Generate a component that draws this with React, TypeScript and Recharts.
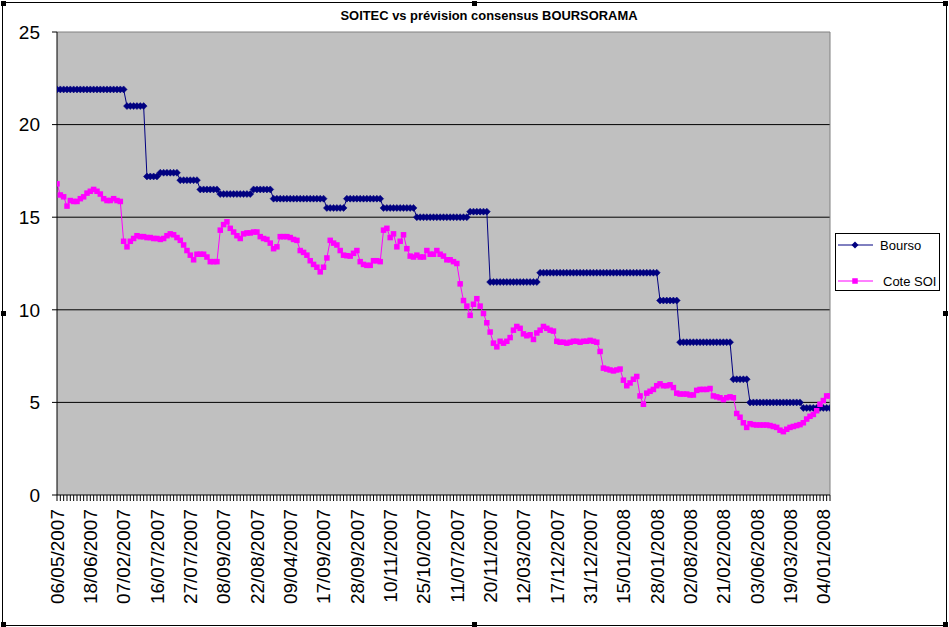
import { LineChart, Line, XAxis, YAxis, CartesianGrid, ReferenceLine, Legend } from 'recharts';

// visible category labels, one every 10 trading days
const tickLabels = [
  '06/05/2007', '18/06/2007', '07/02/2007', '16/07/2007', '27/07/2007', '08/09/2007',
  '22/08/2007', '09/04/2007', '17/09/2007', '28/09/2007', '10/11/2007', '25/10/2007',
  '11/07/2007', '20/11/2007', '12/03/2007', '17/12/2007', '31/12/2007', '15/01/2008',
  '28/01/2008', '02/08/2008', '21/02/2008', '03/06/2008', '19/03/2008', '04/01/2008',
];

const bourso = [
  21.9, 21.9, 21.9, 21.9, 21.9, 21.9, 21.9, 21.9, 21.9, 21.9,
  21.9, 21.9, 21.9, 21.9, 21.9, 21.9, 21.9, 21.9, 21.9, 21.9,
  21.9, 21.0, 21.0, 21.0, 21.0, 21.0, 21.0, 17.2, 17.2, 17.2,
  17.2, 17.4, 17.4, 17.4, 17.4, 17.4, 17.4, 17.0, 17.0, 17.0,
  17.0, 17.0, 17.0, 16.5, 16.5, 16.5, 16.5, 16.5, 16.5, 16.25,
  16.25, 16.25, 16.25, 16.25, 16.25, 16.25, 16.25, 16.25, 16.25, 16.5,
  16.5, 16.5, 16.5, 16.5, 16.5, 16.0, 16.0, 16.0, 16.0, 16.0,
  16.0, 16.0, 16.0, 16.0, 16.0, 16.0, 16.0, 16.0, 16.0, 16.0,
  16.0, 15.5, 15.5, 15.5, 15.5, 15.5, 15.5, 16.0, 16.0, 16.0,
  16.0, 16.0, 16.0, 16.0, 16.0, 16.0, 16.0, 16.0, 15.5, 15.5,
  15.5, 15.5, 15.5, 15.5, 15.5, 15.5, 15.5, 15.5, 15.0, 15.0,
  15.0, 15.0, 15.0, 15.0, 15.0, 15.0, 15.0, 15.0, 15.0, 15.0,
  15.0, 15.0, 15.0, 15.0, 15.3, 15.3, 15.3, 15.3, 15.3, 15.3,
  11.5, 11.5, 11.5, 11.5, 11.5, 11.5, 11.5, 11.5, 11.5, 11.5,
  11.5, 11.5, 11.5, 11.5, 11.5, 12.0, 12.0, 12.0, 12.0, 12.0,
  12.0, 12.0, 12.0, 12.0, 12.0, 12.0, 12.0, 12.0, 12.0, 12.0,
  12.0, 12.0, 12.0, 12.0, 12.0, 12.0, 12.0, 12.0, 12.0, 12.0,
  12.0, 12.0, 12.0, 12.0, 12.0, 12.0, 12.0, 12.0, 12.0, 12.0,
  12.0, 10.5, 10.5, 10.5, 10.5, 10.5, 10.5, 8.25, 8.25, 8.25,
  8.25, 8.25, 8.25, 8.25, 8.25, 8.25, 8.25, 8.25, 8.25, 8.25,
  8.25, 8.25, 8.25, 6.25, 6.25, 6.25, 6.25, 6.25, 5.0, 5.0,
  5.0, 5.0, 5.0, 5.0, 5.0, 5.0, 5.0, 5.0, 5.0, 5.0,
  5.0, 5.0, 5.0, 5.0, 4.7, 4.7, 4.7, 4.7, 4.7, 4.7,
  4.7, 4.7, 4.7,
];

const coteSoi = [
  16.8, 16.2, 16.1, 15.6, 15.9, 15.85, 15.85, 16.0, 16.1, 16.3,
  16.4, 16.5, 16.4, 16.25, 16.0, 15.9, 15.9, 16.0, 15.9, 15.85,
  13.7, 13.4, 13.7, 13.85, 14.0, 13.95, 13.95, 13.9, 13.9, 13.85,
  13.85, 13.8, 13.85, 14.0, 14.1, 14.05, 13.9, 13.75, 13.5, 13.2,
  12.95, 12.7, 13.0, 13.0, 13.0, 12.85, 12.6, 12.6, 12.6, 14.3,
  14.6, 14.75, 14.4, 14.2, 14.0, 13.85, 14.1, 14.15, 14.15, 14.2,
  14.2, 13.95, 13.85, 13.8, 13.6, 13.3, 13.4, 13.95, 13.95, 13.95,
  13.9, 13.8, 13.75, 13.2, 13.1, 12.95, 12.65, 12.45, 12.3, 12.05,
  12.3, 12.8, 13.75, 13.6, 13.5, 13.2, 12.95, 12.92, 12.9, 13.05,
  13.2, 12.6, 12.45, 12.4, 12.4, 12.65, 12.65, 12.6, 14.3, 14.4,
  13.9, 14.1, 13.4, 13.7, 14.05, 13.3, 12.9, 12.85, 12.95, 12.85,
  12.85, 13.2, 13.0, 13.0, 13.2, 13.0, 12.9, 12.7, 12.7, 12.6,
  12.5, 11.4, 10.5, 10.2, 9.7, 10.3, 10.6, 10.2, 9.8, 9.3,
  8.8, 8.2, 8.0, 8.3, 8.2, 8.3, 8.5, 8.9, 9.1, 9.0,
  8.7, 8.6, 8.65, 8.4, 8.75, 8.9, 9.1, 9.0, 8.9, 8.85,
  8.3, 8.25, 8.25, 8.2, 8.25, 8.3, 8.3, 8.25, 8.3, 8.3,
  8.35, 8.3, 8.25, 7.75, 6.85, 6.8, 6.75, 6.7, 6.75, 6.8,
  6.2, 5.9, 6.05, 6.25, 6.4, 5.35, 4.9, 5.5, 5.6, 5.7,
  5.9, 6.0, 5.9, 5.9, 5.95, 5.8, 5.5, 5.45, 5.45, 5.45,
  5.4, 5.4, 5.65, 5.7, 5.7, 5.7, 5.75, 5.35, 5.3, 5.25,
  5.15, 5.25, 5.3, 5.25, 4.4, 4.2, 3.9, 3.65, 3.85, 3.8,
  3.78, 3.78, 3.78, 3.78, 3.75, 3.7, 3.65, 3.5, 3.42, 3.55,
  3.65, 3.7, 3.75, 3.8, 3.9, 4.1, 4.25, 4.35, 4.55, 4.9,
  5.1, 5.35, 5.35,
];

const yTicks = [0, 5, 10, 15, 20, 25];

const data = bourso.map((b, i) => ({ i, bourso: b, coteSoi: coteSoi[i] }));
const lastIndex = data.length - 1;
const xTicks = data.map((d) => d.i);

const FONT = '"Liberation Sans", Arial, sans-serif';
const NAVY = '#000080';
const MAGENTA = '#FF00FF';

const XTick = (props: any) => {
  const { x, y, payload } = props;
  const v = payload.value;
  if (v % 10 !== 0) return null;
  const label = tickLabels[v / 10];
  if (!label) return null;
  return (
    <text
      x={x}
      y={y}
      transform={`rotate(-90 ${x} ${y})`}
      textAnchor="end"
      dy="0.36em"
      fontSize={19}
      fontFamily={FONT}
      fill="#000"
    >
      {label}
    </text>
  );
};

const Diamond = (props: any) => {
  const { cx, cy } = props;
  if (cx == null || cy == null) return null;
  return (
    <polygon
      points={`${cx - 3.5},${cy} ${cx},${cy - 3.5} ${cx + 3.5},${cy} ${cx},${cy + 3.5}`}
      fill={NAVY}
      stroke={NAVY}
      strokeWidth={0.5}
    />
  );
};

const Square = (props: any) => {
  const { cx, cy } = props;
  if (cx == null || cy == null) return null;
  return <rect x={cx - 2.75} y={cy - 2.75} width={5.5} height={5.5} fill={MAGENTA} />;
};

const LegendBox = () => (
  <svg width={105} height={58} style={{ display: 'block' }}>
    <rect x={0.5} y={0.5} width={104} height={57} fill="#fff" stroke="#000" />
    <line x1={3} y1={12} x2={38} y2={12} stroke={NAVY} />
    <polygon points="16.5,12 20,8.5 23.5,12 20,15.5" fill={NAVY} />
    <text x={45} y={12} dy="0.36em" fontSize={13} fontFamily={FONT} fill="#000">
      Bourso
    </text>
    <line x1={3} y1={48} x2={38} y2={48} stroke={MAGENTA} />
    <rect x={17.25} y={45.25} width={5.5} height={5.5} fill={MAGENTA} />
    <text x={48} y={48} dy="0.36em" fontSize={13} fontFamily={FONT} fill="#000">
      Cote SOI
    </text>
  </svg>
);

const handle = (left: number, top: number) => (
  <div
    key={`${left}-${top}`}
    style={{ position: 'absolute', left: left - 2, top: top - 2, width: 5, height: 5, background: '#000' }}
  />
);

export default function App() {
  return (
    <div style={{ position: 'absolute', left: 0, top: 0, width: 949, height: 627, background: '#fff' }}>
      <LineChart
        width={949}
        height={627}
        data={data}
        margin={{ top: 32, right: 119, bottom: 22, left: 0 }}
      >
        <CartesianGrid
          vertical={false}
          fill="#C0C0C0"
          stroke="#000"
          strokeOpacity={1}
          horizontalValues={[5, 10, 15, 20]}
        />
        <XAxis
          type="number"
          dataKey="i"
          domain={[0, lastIndex]}
          ticks={xTicks}
          interval={0}
          height={110}
          tickSize={6}
          tickMargin={8}
          tick={<XTick />}
          tickLine={{ stroke: '#000' }}
          axisLine={{ stroke: '#000' }}
          allowDataOverflow
        />
        <YAxis
          domain={[0, 25]}
          ticks={yTicks}
          interval={0}
          width={57}
          tickSize={5}
          tickMargin={12}
          tick={{ fill: '#000', fontSize: 19, fontFamily: FONT }}
          tickLine={{ stroke: '#000' }}
          axisLine={{ stroke: '#000' }}
        />
        <ReferenceLine y={25} stroke="#808080" />
        <ReferenceLine x={lastIndex} stroke="#808080" />
        <Line
          type="linear"
          dataKey="bourso"
          name="Bourso"
          stroke={NAVY}
          strokeWidth={1}
          dot={<Diamond />}
          activeDot={false}
          isAnimationActive={false}
        />
        <Line
          type="linear"
          dataKey="coteSoi"
          name="Cote SOI"
          stroke={MAGENTA}
          strokeWidth={1}
          dot={<Square />}
          activeDot={false}
          isAnimationActive={false}
        />
        <Legend
          layout="horizontal"
          verticalAlign="middle"
          align="center"
          content={() => <LegendBox />}
          wrapperStyle={{ left: 835, top: 233, width: 105, height: 58 }}
        />
      </LineChart>
      <svg width={949} height={30} style={{ position: 'absolute', left: 0, top: 0 }}>
        <text
          x={489}
          y={20}
          textAnchor="middle"
          fontSize={13}
          fontWeight="bold"
          fontFamily='"Liberation Sans Narrow", "Liberation Sans", Arial, sans-serif'
          textLength={297}
          lengthAdjust="spacingAndGlyphs"
          fill="#000"
        >
          SOITEC vs prévision consensus BOURSORAMA
        </text>
      </svg>
      <div
        style={{
          position: 'absolute',
          left: 2,
          top: 2,
          width: 943,
          height: 622,
          border: '1px solid #000',
          pointerEvents: 'none',
        }}
      />
      {[
        [3, 3], [474, 3], [945, 3],
        [3, 313], [945, 313],
        [3, 624], [474, 624], [945, 624],
      ].map(([l, t]) => handle(l, t))}
    </div>
  );
}
